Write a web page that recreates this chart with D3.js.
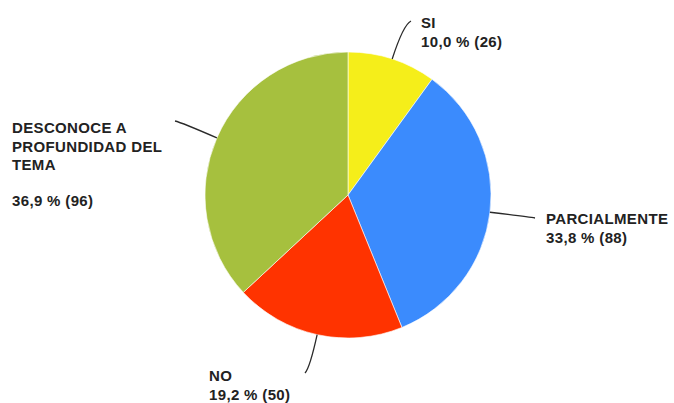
<!DOCTYPE html>
<html>
<head>
<meta charset="utf-8">
<script src="https://cdn.jsdelivr.net/npm/d3@7"></script>
<style>
  body { margin: 0; background: #fff; }
  text { font-family: "Liberation Sans", Arial, sans-serif; font-weight: bold; font-size: 15px; letter-spacing: 0.35px; fill: #222; }
</style>
</head>
<body>
<div id="chart"></div>
<script>
// data
var categories = ["SI", "PARCIALMENTE", "NO", "DESCONOCE A PROFUNDIDAD DEL TEMA"];
var counts = [26, 88, 50, 96];
var percents = ["10,0", "33,8", "19,2", "36,9"];
var colors = ["#f5ee1a", "#3b8bfd", "#ff3300", "#a6c03e"];

var width = 674, height = 403,
    cx = 348, cy = 195, radius = 143;

// label anchors (layout only)
var labelPos = [
    {x: 421, y: 28, lines: ["SI"], gap: 0, end: [411, 21]},
    {x: 546, y: 224, lines: ["PARCIALMENTE"], gap: 0, end: [535, 218]},
    {x: 209, y: 381, lines: ["NO"], gap: 0, end: [305, 373]},
    {x: 12, y: 133, lines: ["DESCONOCE A", "PROFUNDIDAD DEL", "TEMA"], gap: 17, end: [175, 121]}
];

var svg = d3.select("#chart").append("svg")
    .attr("width", width)
    .attr("height", height);

var pie = d3.pie().sort(null).value(function(d) { return d; });
var arc = d3.arc().innerRadius(0).outerRadius(radius);

var arcs = pie(counts);

var g = svg.append("g")
    .attr("transform", "translate(" + cx + "," + cy + ")");

g.selectAll("path.slice")
    .data(arcs)
    .enter().append("path")
    .attr("class", "slice")
    .attr("d", arc)
    .attr("fill", function(d, i) { return colors[i]; })
    .attr("stroke", "#fff")
    .attr("stroke-width", 0.6);

// leader lines
arcs.forEach(function(d, i) {
    var a = (d.startAngle + d.endAngle) / 2;
    var dx = Math.sin(a), dy = -Math.cos(a);
    var sx = cx + dx * radius, sy = cy + dy * radius;
    var ex = labelPos[i].end[0], ey = labelPos[i].end[1];
    var dist = Math.sqrt((ex - sx) * (ex - sx) + (ey - sy) * (ey - sy));
    var qx = sx + dx * dist * 0.85, qy = sy + dy * dist * 0.85;
    svg.append("path")
        .attr("d", "M" + sx + "," + sy + "Q" + qx + "," + qy + " " + ex + "," + ey)
        .attr("fill", "none")
        .attr("stroke", "#2a2a2a")
        .attr("stroke-width", 1.3);
});

// labels
labelPos.forEach(function(p, i) {
    var t = svg.append("text").attr("x", p.x).attr("y", p.y);
    var lh = 18.5;
    p.lines.forEach(function(l, j) {
        t.append("tspan").attr("x", p.x).attr("y", p.y + j * lh).text(l);
    });
    var lastY = p.y + (p.lines.length - 1) * lh + (p.gap ? lh + p.gap : lh);
    t.append("tspan").attr("x", p.x).attr("y", lastY)
        .text(percents[i] + " % (" + counts[i] + ")");
});
</script>
</body>
</html>
